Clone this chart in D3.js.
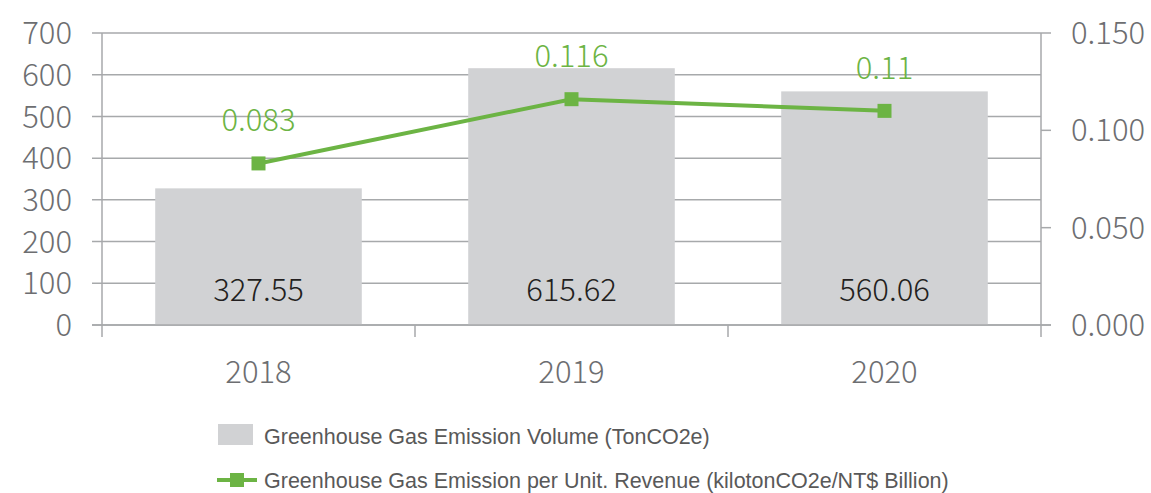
<!DOCTYPE html>
<html>
<head>
<meta charset="utf-8">
<script src="https://cdn.jsdelivr.net/npm/d3@7"></script>
<style>
  body { margin: 0; background: #fff; }
  svg { display: block; }
</style>
</head>
<body>
<div id="chart"></div>
<script>
const years = ["2018", "2019", "2020"];
const emissionVolume = [327.55, 615.62, 560.06];
const emissionPerRevenue = [0.083, 0.116, 0.11];
const leftTicks = [0, 100, 200, 300, 400, 500, 600, 700];
const rightTicks = [0, 0.05, 0.1, 0.15];
const legendLabels = [
	"Greenhouse Gas Emission Volume (TonCO2e)",
	"Greenhouse Gas Emission per Unit. Revenue (kilotonCO2e/NT$ Billion)",
];

const colors = {
	bar: "#d1d2d4",
	line: "#6cb444",
	grid: "#a7a9ab",
	axisText: "#6d6e71",
	barText: "#231f20",
	legendText: "#595959",
};
const width = 1151;
const height = 493;
const plot = { left: 102, right: 1041, top: 33, bottom: 325 };
const numFont = "'Noto Sans CJK TC', 'Noto Sans', sans-serif";
const numSize = "31px";

const svg = d3
	.select("#chart")
	.append("svg")
	.attr("width", width)
	.attr("height", height);

// Scales
const x = d3
	.scaleBand()
	.domain(years)
	.range([plot.left, plot.right])
	.paddingInner(0.34)
	.paddingOuter(0.17);
const xOuter = d3.scaleBand().domain(years).range([plot.left, plot.right]);
const yLeft = d3.scaleLinear().domain([0, 700]).range([plot.bottom, plot.top]);
const yRight = d3.scaleLinear().domain([0, 0.15]).range([plot.bottom, plot.top]);

// Gridlines + left ticks
svg
	.append("g")
	.selectAll("line")
	.data(leftTicks)
	.enter()
	.append("line")
	.attr("x1", plot.left - 10)
	.attr("x2", plot.right)
	.attr("y1", (d) => yLeft(d))
	.attr("y2", (d) => yLeft(d))
	.attr("stroke", colors.grid)
	.attr("stroke-width", 1.5);

// Bars
svg
	.append("g")
	.selectAll("rect")
	.data(years)
	.enter()
	.append("rect")
	.attr("x", (d) => x(d))
	.attr("width", x.bandwidth())
	.attr("y", (d, i) => yLeft(emissionVolume[i]))
	.attr("height", (d, i) => plot.bottom - yLeft(emissionVolume[i]))
	.attr("fill", colors.bar);

// Axis lines
const axes = svg.append("g").attr("stroke", colors.grid).attr("stroke-width", 1.5);
axes.append("line")
	.attr("x1", plot.left).attr("x2", plot.left)
	.attr("y1", plot.top).attr("y2", plot.bottom + 12);
axes.append("line")
	.attr("x1", plot.right).attr("x2", plot.right)
	.attr("y1", plot.top).attr("y2", plot.bottom + 12);
axes.append("line")
	.attr("x1", plot.left - 10).attr("x2", plot.right + 10)
	.attr("y1", plot.bottom).attr("y2", plot.bottom);
axes.selectAll(".cat-tick")
	.data(years.slice(1))
	.enter()
	.append("line")
	.attr("x1", (d) => xOuter(d))
	.attr("x2", (d) => xOuter(d))
	.attr("y1", plot.bottom)
	.attr("y2", plot.bottom + 12);
axes.selectAll(".r-tick")
	.data(rightTicks)
	.enter()
	.append("line")
	.attr("x1", plot.right)
	.attr("x2", plot.right + 10)
	.attr("y1", (d) => yRight(d))
	.attr("y2", (d) => yRight(d));

// Left axis labels
svg
	.append("g")
	.selectAll("text")
	.data(leftTicks)
	.enter()
	.append("text")
	.text((d) => d)
	.attr("x", 72)
	.attr("y", (d) => yLeft(d))
	.attr("dy", "0.36em")
	.attr("text-anchor", "end")
	.attr("fill", colors.axisText)
	.style("font-family", numFont)
	.style("font-weight", 300)
	.style("font-size", numSize);

// Right axis labels
svg
	.append("g")
	.selectAll("text")
	.data(rightTicks)
	.enter()
	.append("text")
	.text((d) => d3.format(".3f")(d))
	.attr("x", 1071)
	.attr("y", (d) => yRight(d))
	.attr("dy", "0.36em")
	.attr("text-anchor", "start")
	.attr("fill", colors.axisText)
	.style("font-family", numFont)
	.style("font-weight", 300)
	.style("font-size", numSize);

// Category labels
svg
	.append("g")
	.selectAll("text")
	.data(years)
	.enter()
	.append("text")
	.text((d) => d)
	.attr("x", (d) => x(d) + x.bandwidth() / 2)
	.attr("y", 372)
	.attr("dy", "0.36em")
	.attr("text-anchor", "middle")
	.attr("fill", colors.axisText)
	.style("font-family", numFont)
	.style("font-weight", 300)
	.style("font-size", numSize);

// Bar value labels
svg
	.append("g")
	.selectAll("text")
	.data(years)
	.enter()
	.append("text")
	.text((d, i) => d3.format(".2f")(emissionVolume[i]))
	.attr("x", (d) => x(d) + x.bandwidth() / 2)
	.attr("y", 290)
	.attr("dy", "0.36em")
	.attr("text-anchor", "middle")
	.attr("fill", colors.barText)
	.style("font-family", numFont)
	.style("font-weight", 300)
	.style("font-size", numSize);

// Line
const cx = (d) => x(d) + x.bandwidth() / 2;
svg
	.append("path")
	.datum(years)
	.attr("fill", "none")
	.attr("stroke", colors.line)
	.attr("stroke-width", 4)
	.attr("d", d3.line().x(cx).y((d, i) => yRight(emissionPerRevenue[i])));

svg
	.append("g")
	.selectAll("rect")
	.data(years)
	.enter()
	.append("rect")
	.attr("x", (d) => cx(d) - 7)
	.attr("y", (d, i) => yRight(emissionPerRevenue[i]) - 7)
	.attr("width", 14)
	.attr("height", 14)
	.attr("fill", colors.line);

svg
	.append("g")
	.selectAll("text")
	.data(years)
	.enter()
	.append("text")
	.text((d, i) => emissionPerRevenue[i])
	.attr("x", cx)
	.attr("y", (d, i) => yRight(emissionPerRevenue[i]) - 32)
	.attr("text-anchor", "middle")
	.attr("fill", colors.line)
	.style("font-family", numFont)
	.style("font-weight", 300)
	.style("font-size", numSize);

// Legend
const legend = svg.append("g");
legend.append("rect")
	.attr("x", 218).attr("y", 424)
	.attr("width", 35).attr("height", 21)
	.attr("fill", colors.bar);
legend.append("line")
	.attr("x1", 217).attr("x2", 257)
	.attr("y1", 480).attr("y2", 480)
	.attr("stroke", colors.line)
	.attr("stroke-width", 4);
legend.append("rect")
	.attr("x", 230).attr("y", 473)
	.attr("width", 14).attr("height", 14)
	.attr("fill", colors.line);
legend.selectAll("text")
	.data(legendLabels)
	.enter()
	.append("text")
	.text((d) => d)
	.attr("x", 264)
	.attr("y", (d, i) => 436 + i * 44)
	.attr("dy", "0.36em")
	.attr("fill", colors.legendText)
	.style("font-family", "'Liberation Sans', Arial, sans-serif")
	.style("font-size", "21.5px");
</script>
</body>
</html>
